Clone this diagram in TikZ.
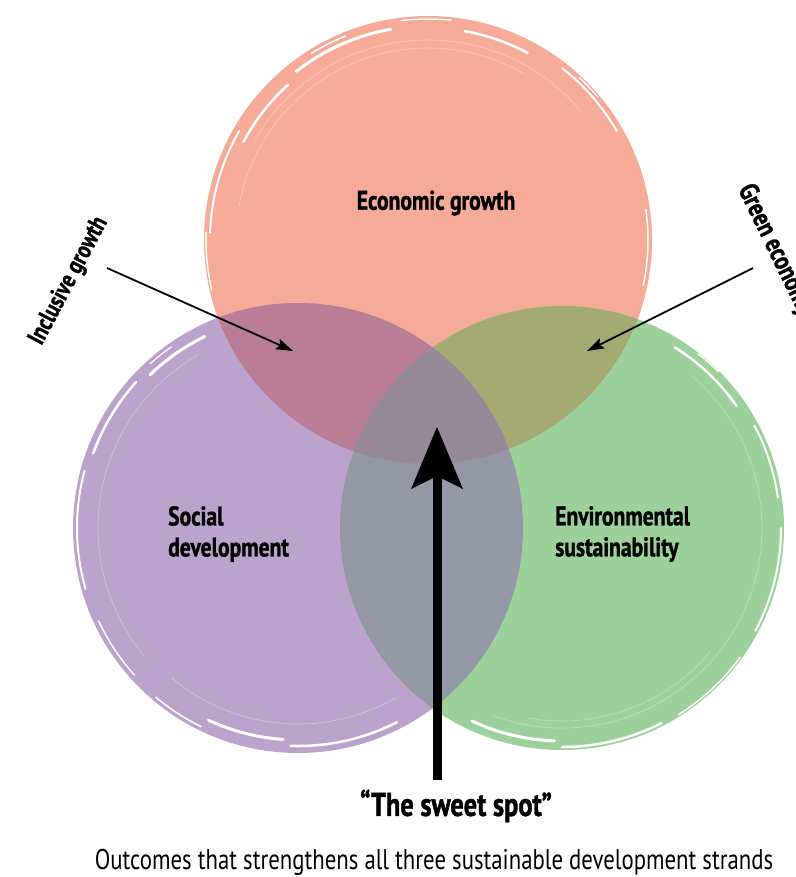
\documentclass[tikz,border=0pt]{standalone}
\usepackage{fontspec}
\setmainfont{PT Sans}[FakeStretch=0.8, BoldFeatures={FakeBold=1.2}]
\usetikzlibrary{arrows.meta}

\definecolor{econ}{RGB}{246,170,152}
\definecolor{soc}{RGB}{188,163,205}
\definecolor{env}{RGB}{157,209,155}
\definecolor{econsoc}{RGB}{185,125,150}
\definecolor{econenv}{RGB}{163,171,115}
\definecolor{socenv}{RGB}{148,151,166}
\definecolor{allthree}{RGB}{151,138,152}

\newcommand{\rimstreak}[5]{\draw[white, line width=#5pt, line cap=round] ([shift={(#1)}]#2:#4pt) arc[start angle=#2, end angle=#3, radius=#4pt];}
\newcommand{\faintring}[4]{\draw[white, opacity=0.35, line width=0.6pt] ([shift={(#1)}]#2:#4pt) arc[start angle=#2, end angle=#3, radius=#4pt];}

\tikzset{
  lab/.style={font=\bfseries\fontsize{27}{31}\selectfont, text=black, inner sep=0pt},
  thinarrow/.style={black, line width=1.8pt, -{Stealth[length=17pt, width=11pt, inset=3pt]}},
}

\begin{document}
\begin{tikzpicture}[x=1pt, y=-1pt]
\useasboundingbox (0,0) rectangle (795,877);

\coordinate (E) at (428,240);
\coordinate (S) at (298,528);
\coordinate (V) at (562,528);

% base circles
\fill[econ] (E) circle (224pt);
\fill[soc] (S) circle (225pt);
\fill[env] (V) circle (222pt);

% overlaps
\begin{scope}
  \clip (E) circle (224pt);
  \fill[econsoc] (S) circle (225pt);
  \fill[econenv] (V) circle (222pt);
  \clip (S) circle (225pt);
  \fill[allthree] (V) circle (222pt);
\end{scope}
\begin{scope}
  \clip (S) circle (225pt);
  \fill[socenv] (V) circle (222pt);
  \clip (E) circle (224pt);
  \fill[allthree] (V) circle (222pt);
\end{scope}

% brush-stroke rims: economic growth
\rimstreak{E}{100}{128}{214}{3}
\rimstreak{E}{132}{152}{209}{2.5}
\rimstreak{E}{150}{178}{218}{2}
\rimstreak{E}{62}{80}{212}{2.5}
\rimstreak{E}{30}{52}{218}{2}
\rimstreak{E}{84}{97}{221}{1.5}
\rimstreak{E}{178}{193}{222}{1.5}
\rimstreak{E}{-12}{8}{220}{1.5}
\rimstreak{E}{112}{122}{220}{1.5}
\rimstreak{E}{40}{47}{222}{1.2}
\faintring{E}{40}{150}{200}
\faintring{E}{60}{170}{192}

% social development
\rimstreak{S}{116}{134}{213}{3}
\rimstreak{S}{138}{160}{218}{2.5}
\rimstreak{S}{165}{196}{221}{2}
\rimstreak{S}{205}{222}{220}{1.5}
\rimstreak{S}{245}{266}{212}{3}
\rimstreak{S}{268}{297}{218}{2.5}
\rimstreak{S}{230}{244}{221}{1.5}
\rimstreak{S}{125}{132}{221}{1.2}
\faintring{S}{120}{220}{200}
\faintring{S}{230}{300}{196}

% environmental sustainability
\rimstreak{V}{35}{58}{213}{2.5}
\rimstreak{V}{8}{28}{218}{2}
\rimstreak{V}{-28}{0}{219}{2}
\rimstreak{V}{-58}{-36}{220}{1.5}
\rimstreak{V}{-115}{-92}{213}{3}
\rimstreak{V}{-90}{-63}{219}{2.5}
\rimstreak{V}{45}{52}{221}{1.2}
\faintring{V}{-110}{50}{200}
\faintring{V}{-100}{-40}{193}

% labels
\node[lab] (econlab) at (436,203) {Economic growth};
\node[lab, align=left, anchor=west] (soclab) at (168,534) {Social\\development};
\node[lab, align=left, anchor=west] (envlab) at (555,534) {Environmental\\sustainability};
\node[lab, font=\bfseries\fontsize{25}{30}\selectfont, rotate=62] (incl) at (69,281) {Inclusive growth};
\node[lab, rotate=-64, anchor=west] (green) at (744,186) {Green economy};

% thin arrows
\coordinate (inclstart) at (107,268);
\coordinate (incltip) at (293,351);
\coordinate (greenstart) at (753,268);
\coordinate (greentip) at (587,351);
\draw[thinarrow] (inclstart) -- (incltip);
\draw[thinarrow] (greenstart) -- (greentip);

% sweet spot
\node[font=\bfseries\fontsize{33}{38}\selectfont, inner sep=0pt] (sweet) at (456,806) {“The sweet spot”};
\node[font=\fontsize{28.5}{33}\selectfont, inner sep=0pt] (caption) at (434,862) {Outcomes that strengthens all three sustainable development strands};

\coordinate (shaftbot) at (437,780);
\coordinate (notch) at (437,476);
\coordinate (bigtip) at (437,427);
\draw[black, line width=9pt] (shaftbot) -- (notch);
\fill[black] (bigtip) -- (463,489) -- (notch) -- (411,489) -- cycle;
\end{tikzpicture}
\end{document}
